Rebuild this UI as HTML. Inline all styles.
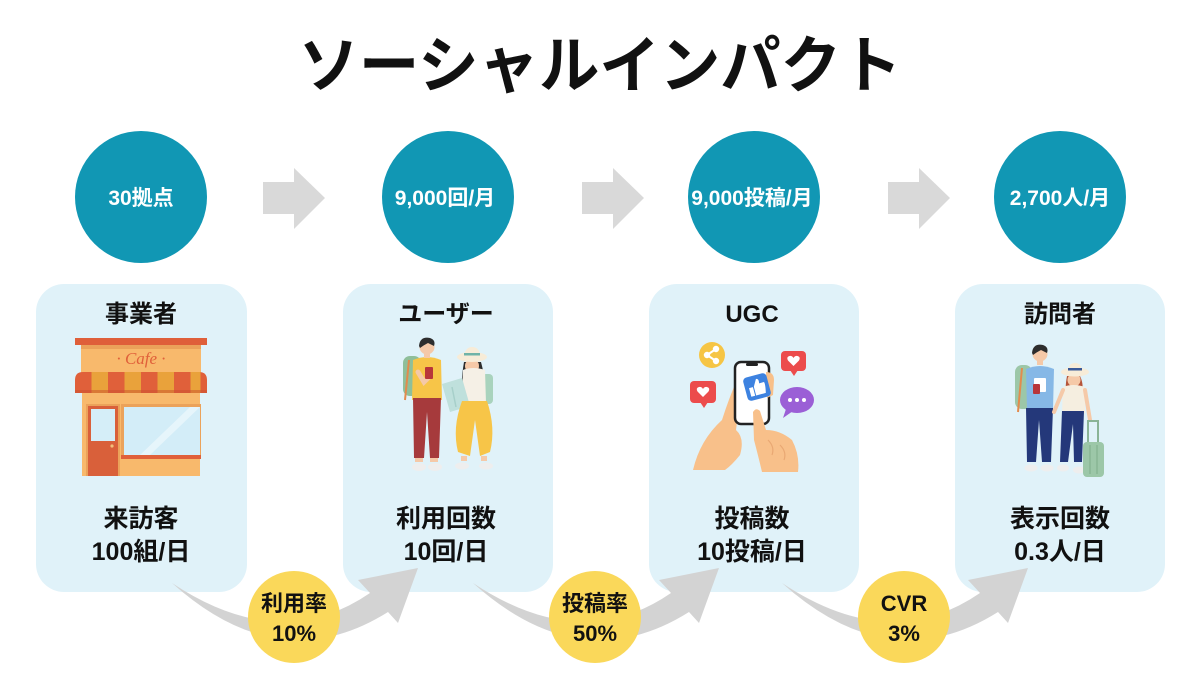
<!DOCTYPE html>
<html><head><meta charset="utf-8"><style>
html,body{margin:0;padding:0;background:#fff;}
svg{display:block;}
text{font-family:"Liberation Sans","Noto Sans CJK JP",sans-serif;font-weight:bold;}
</style></head><body>
<svg width="1200" height="675" viewBox="0 0 1200 675" xmlns="http://www.w3.org/2000/svg">
<rect width="1200" height="675" fill="#fff"/>
<!-- Title -->
<text x="600" y="87" font-size="62" text-anchor="middle" fill="#111" textLength="603" lengthAdjust="spacingAndGlyphs">ソーシャルインパクト</text>

<!-- Teal circles -->
<g fill="#1197b4">
<circle cx="141" cy="197" r="66"/>
<circle cx="448" cy="197" r="66"/>
<circle cx="754" cy="197" r="66"/>
<circle cx="1060" cy="197" r="66"/>
</g>
<g fill="#fff" font-size="21" text-anchor="middle">
<text x="141" y="205">30拠点</text>
<text x="445" y="205">9,000回/月</text>
<text x="752" y="205">9,000投稿/月</text>
<text x="1060" y="205">2,700人/月</text>
</g>

<!-- Gray block arrows -->
<g fill="#d9d9d9">
<path d="M263,182 H294 V168 L325,198 L294,229 V214 H263 Z"/>
<path d="M582,182 H613 V168 L644,198 L613,229 V214 H582 Z"/>
<path d="M888,182 H919 V168 L950,198 L919,229 V214 H888 Z"/>
</g>

<!-- Cards -->
<g fill="#e0f2f9">
<rect x="36" y="284" width="211" height="308" rx="28"/>
<rect x="343" y="284" width="210" height="308" rx="28"/>
<rect x="649" y="284" width="210" height="308" rx="28"/>
<rect x="955" y="284" width="210" height="308" rx="28"/>
</g>
<g fill="#111" font-size="24" text-anchor="middle">
<text x="141" y="322">事業者</text>
<text x="446" y="322">ユーザー</text>
<text x="752" y="322">UGC</text>
<text x="1060" y="322">訪問者</text>
</g>
<g fill="#111" font-size="25" text-anchor="middle">
<text x="141" y="527">来訪客</text>
<text x="141" y="560">100組/日</text>
<text x="446" y="527">利用回数</text>
<text x="446" y="560">10回/日</text>
<text x="752" y="527">投稿数</text>
<text x="752" y="560">10投稿/日</text>
<text x="1060" y="527">表示回数</text>
<text x="1060" y="560">0.3人/日</text>
</g>

<!-- Cafe illustration -->
<g>
<rect x="82" y="390" width="118" height="86" fill="#f8b96c"/>
<rect x="81" y="345" width="120" height="28" fill="#f8b96c"/>
<rect x="81" y="345" width="120" height="4" fill="#eba25a"/>
<rect x="75" y="338" width="132" height="7" fill="#df5f3a"/>
<text x="141" y="364" font-size="17" text-anchor="middle" fill="#e0603a" style="font-family:'Liberation Serif',serif;font-style:italic;font-weight:normal;">· Cafe ·</text>
<g>
<path d="M75,393 V380 Q75,372 83,372 H199 Q207,372 207,380 V393 Z" fill="#e0603a"/>
<rect x="91.5" y="372" width="16.5" height="21" fill="#e9a23b"/>
<rect x="124.5" y="372" width="16.5" height="21" fill="#e9a23b"/>
<rect x="157.5" y="372" width="16.5" height="21" fill="#e9a23b"/>
<rect x="190.5" y="372" width="10" height="21" fill="#e9a23b"/>
<rect x="75" y="390" width="132" height="3" fill="#c9502f" opacity="0.5"/>
</g>
<rect x="86" y="404" width="34" height="72" fill="#eba25a"/>
<rect x="88" y="406" width="30" height="70" fill="#d9603a"/>
<rect x="91" y="409" width="24" height="32" fill="#d5eef8"/>
<circle cx="112" cy="446" r="1.6" fill="#f3c07a"/>
<rect x="121" y="404" width="80" height="55" fill="#eba25a"/>
<rect x="124" y="407" width="76" height="48" fill="#d3edf8"/>
<path d="M140,455 L190,407 H200 L150,455 Z" fill="#e6f5fb"/>
<rect x="121" y="455" width="80" height="4" fill="#e0603a"/>
</g>

<!-- Users illustration -->
<g>
<!-- man -->
<rect x="403" y="356" width="18" height="40" rx="7" fill="#8fbf9a"/>
<path d="M409,360 L405,400" stroke="#e38b4d" stroke-width="2" fill="none"/>
<path d="M413,360 Q427,354 441,360 L442,400 H412 Z" fill="#f7c548"/>
<path d="M418,372 L424,382 L430,376" stroke="#f5c9a8" stroke-width="5" fill="none" stroke-linecap="round"/>
<rect x="425" y="367" width="8" height="12" rx="1" fill="#b8353a"/>
<rect x="424" y="352" width="6" height="6" fill="#f5c9a8"/>
<circle cx="427" cy="347" r="7.5" fill="#f5c9a8"/>
<path d="M419,346 Q420,336 430,338 Q436,340 434,346 L428,343 Q424,345 420,348 Z" fill="#2d2d2d"/>
<path d="M413,398 H441 L439,458 H430 L427,412 L424,458 H414 Z" fill="#a63a3c"/>
<rect x="415" y="458" width="8" height="4" fill="#f5c9a8"/>
<rect x="430" y="458" width="8" height="4" fill="#f5c9a8"/>
<ellipse cx="419" cy="467" rx="7" ry="4" fill="#eeeeee"/>
<ellipse cx="435" cy="467" rx="7" ry="4" fill="#eeeeee"/>
<!-- woman -->
<rect x="482" y="374" width="11" height="30" rx="4" fill="#a9d3bd"/>
<path d="M464,362 Q460,385 464,392 L483,392 Q486,380 481,362 Z" fill="#2d2d2d"/>
<circle cx="472" cy="366" r="7" fill="#f5c9a8"/>
<path d="M463,370 Q473,366 485,370 L486,403 H462 Z" fill="#f5f0e6"/>
<path d="M442,384 L462,378 L470,406 L450,412 Z" fill="#bfe0dc"/>
<path d="M452,387 L456,407" stroke="#a7cfca" stroke-width="1.5"/>
<ellipse cx="472" cy="357" rx="15" ry="5" fill="#f7ecd8"/>
<path d="M464,357 Q465,347 472,347 Q480,347 480,357 Z" fill="#f7ecd8"/>
<rect x="464" y="353" width="16" height="2.5" fill="#6fb3a8"/>
<path d="M462,401 H487 Q496,428 490,452 L480,456 L475,420 L470,456 L458,452 Q452,428 462,401 Z" fill="#f7c548"/>
<rect x="461" y="456" width="6" height="5" fill="#f5c9a8"/>
<rect x="481" y="456" width="6" height="5" fill="#f5c9a8"/>
<ellipse cx="462" cy="466" rx="7" ry="3.5" fill="#eeeeee"/>
<ellipse cx="486" cy="466" rx="7" ry="3.5" fill="#eeeeee"/>
</g>

<!-- UGC illustration -->
<g>
<circle cx="712" cy="355" r="13" fill="#f6c544"/>
<g stroke="#fff" stroke-width="2" fill="#fff">
<line x1="716" y1="349" x2="707" y2="355"/><line x1="707" y1="355" x2="716" y2="361"/>
<circle cx="716" cy="349" r="2.2"/><circle cx="707" cy="355" r="2.2"/><circle cx="716" cy="361" r="2.2"/>
</g>
<rect x="781" y="351" width="25" height="20" rx="4" fill="#ec4c4c"/>
<path d="M790,370 L794,376 L798,370 Z" fill="#ec4c4c"/>
<path d="M793.5,366 L788,360.5 Q786,357 789.5,356 Q792,355.5 793.5,358 Q795,355.5 797.5,356 Q801,357 799,360.5 Z" fill="#fff"/>
<rect x="690" y="381" width="26" height="22" rx="4" fill="#ec4c4c"/>
<path d="M700,402 L704,408 L708,402 Z" fill="#ec4c4c"/>
<path d="M703,397 L697.5,391.5 Q695.5,388 699,387 Q701.5,386.5 703,389 Q704.5,386.5 707,387 Q710.5,388 708.5,391.5 Z" fill="#fff"/>
<ellipse cx="797" cy="400" rx="17" ry="13" fill="#9b5fd6"/>
<path d="M786,409 L783,418 L793,411 Z" fill="#9b5fd6"/>
<circle cx="790" cy="400" r="2" fill="#fff"/><circle cx="797" cy="400" r="2" fill="#fff"/><circle cx="804" cy="400" r="2" fill="#fff"/>
<!-- left hand -->
<path d="M693,470 Q700,440 722,420 Q730,395 738,378 L742,382 L736,430 Q745,438 740,455 Q732,465 725,470 Z" fill="#f8c08a"/>
<!-- phone -->
<rect x="735" y="362" width="34" height="62" rx="6" fill="#fff" stroke="#222" stroke-width="2.5"/>
<rect x="746" y="363" width="12" height="3" rx="1.5" fill="#222"/>
<path d="M766,372 Q774,372 774,380 L773,395 L767,398 Z" fill="#f8c08a"/>
<!-- like badge -->
<g transform="rotate(-15 757 387)">
<rect x="745" y="375" width="24" height="24" rx="4" fill="#3d82e0"/>
<rect x="749" y="386" width="4" height="9" fill="#fff"/>
<path d="M754,386 L758,379 Q761,379 760,384 H765 Q766,386 764,395 H754 Z" fill="#fff"/>
</g>
<!-- pointing hand -->
<path d="M753,412 Q756,407 760,411 L766,430 Q780,430 792,440 Q800,455 798,472 H762 Q758,455 754,440 Z" fill="#f8c08a"/>
<path d="M768,440 Q775,447 772,455 M780,445 Q787,452 784,460" stroke="#e9a873" stroke-width="1.2" fill="none"/>
</g>

<!-- Visitors illustration -->
<g>
<rect x="1015" y="365" width="17" height="44" rx="7" fill="#9cc7a8"/>
<path d="M1022,368 L1018,412" stroke="#e38b4d" stroke-width="2" fill="none"/>
<path d="M1026,369 Q1040,363 1054,369 L1053,410 H1027 Z" fill="#86b8e6"/>
<rect x="1034" y="378" width="12" height="14" rx="1" fill="#fff"/>
<rect x="1033" y="384" width="7" height="10" rx="1" fill="#b8353a"/>
<rect x="1037" y="359" width="6" height="6" fill="#f5c9a8"/>
<circle cx="1040" cy="354" r="7.5" fill="#f5c9a8"/>
<path d="M1032,353 Q1033,343 1043,345 Q1049,347 1047,353 L1041,350 Q1037,352 1033,355 Z" fill="#2d2d2d"/>
<path d="M1026,408 H1053 L1051,462 H1042 L1039,420 L1036,462 H1027 Z" fill="#24387a"/>
<ellipse cx="1031" cy="468" rx="6.5" ry="3.5" fill="#eeeeee"/>
<ellipse cx="1047" cy="468" rx="6.5" ry="3.5" fill="#eeeeee"/>
<!-- woman -->
<path d="M1067,376 Q1064,392 1068,396 L1082,394 Q1084,384 1080,376 Z" fill="#b5553a"/>
<circle cx="1074" cy="380" r="6.5" fill="#f5c9a8"/>
<ellipse cx="1075" cy="372" rx="14" ry="4.5" fill="#f7ecd8"/>
<path d="M1068,372 Q1068,363 1075,363 Q1082,363 1082,372 Z" fill="#f7ecd8"/>
<rect x="1068" y="368" width="14" height="2.5" fill="#3a5a99"/>
<path d="M1063,387 Q1073,383 1085,387 L1085,413 H1062 Z" fill="#f5eee0"/>
<path d="M1063,390 L1054,412" stroke="#f5c9a8" stroke-width="4" stroke-linecap="round"/>
<path d="M1085,390 L1090,420" stroke="#f5c9a8" stroke-width="4" stroke-linecap="round"/>
<path d="M1062,411 H1084 L1082,462 H1074 L1073,424 L1068,462 H1060 Z" fill="#24387a"/>
<ellipse cx="1063" cy="468" rx="6" ry="3.5" fill="#eeeeee"/>
<ellipse cx="1079" cy="470" rx="6" ry="3.5" fill="#eeeeee"/>
<!-- suitcase -->
<path d="M1088,442 V421 H1098 V442" stroke="#8ab496" stroke-width="2" fill="none"/>
<rect x="1083" y="442" width="21" height="35" rx="4" fill="#9cc7a8"/>
<line x1="1090" y1="445" x2="1090" y2="474" stroke="#88b594" stroke-width="1.5"/>
<line x1="1097" y1="445" x2="1097" y2="474" stroke="#88b594" stroke-width="1.5"/>
</g>

<!-- Swoosh arrows -->
<g fill="#d3d3d3">
<path d="M172,583 Q280,680 388,612 L398,623 L418,568 L358,580 L370,593 Q280,655 172,583 Z"/>
<path d="M172,583 Q280,680 388,612 L398,623 L418,568 L358,580 L370,593 Q280,655 172,583 Z" transform="translate(301 0)"/>
<path d="M172,583 Q280,680 388,612 L398,623 L418,568 L358,580 L370,593 Q280,655 172,583 Z" transform="translate(610 0)"/>
</g>

<!-- Yellow circles -->
<g fill="#fad85a">
<circle cx="294" cy="617" r="46"/>
<circle cx="595" cy="617" r="46"/>
<circle cx="904" cy="617" r="46"/>
</g>
<g fill="#111" font-size="22" text-anchor="middle">
<text x="294" y="611">利用率</text>
<text x="294" y="641">10%</text>
<text x="595" y="611">投稿率</text>
<text x="595" y="641">50%</text>
<text x="904" y="611">CVR</text>
<text x="904" y="641">3%</text>
</g>
</svg>
</body></html>
